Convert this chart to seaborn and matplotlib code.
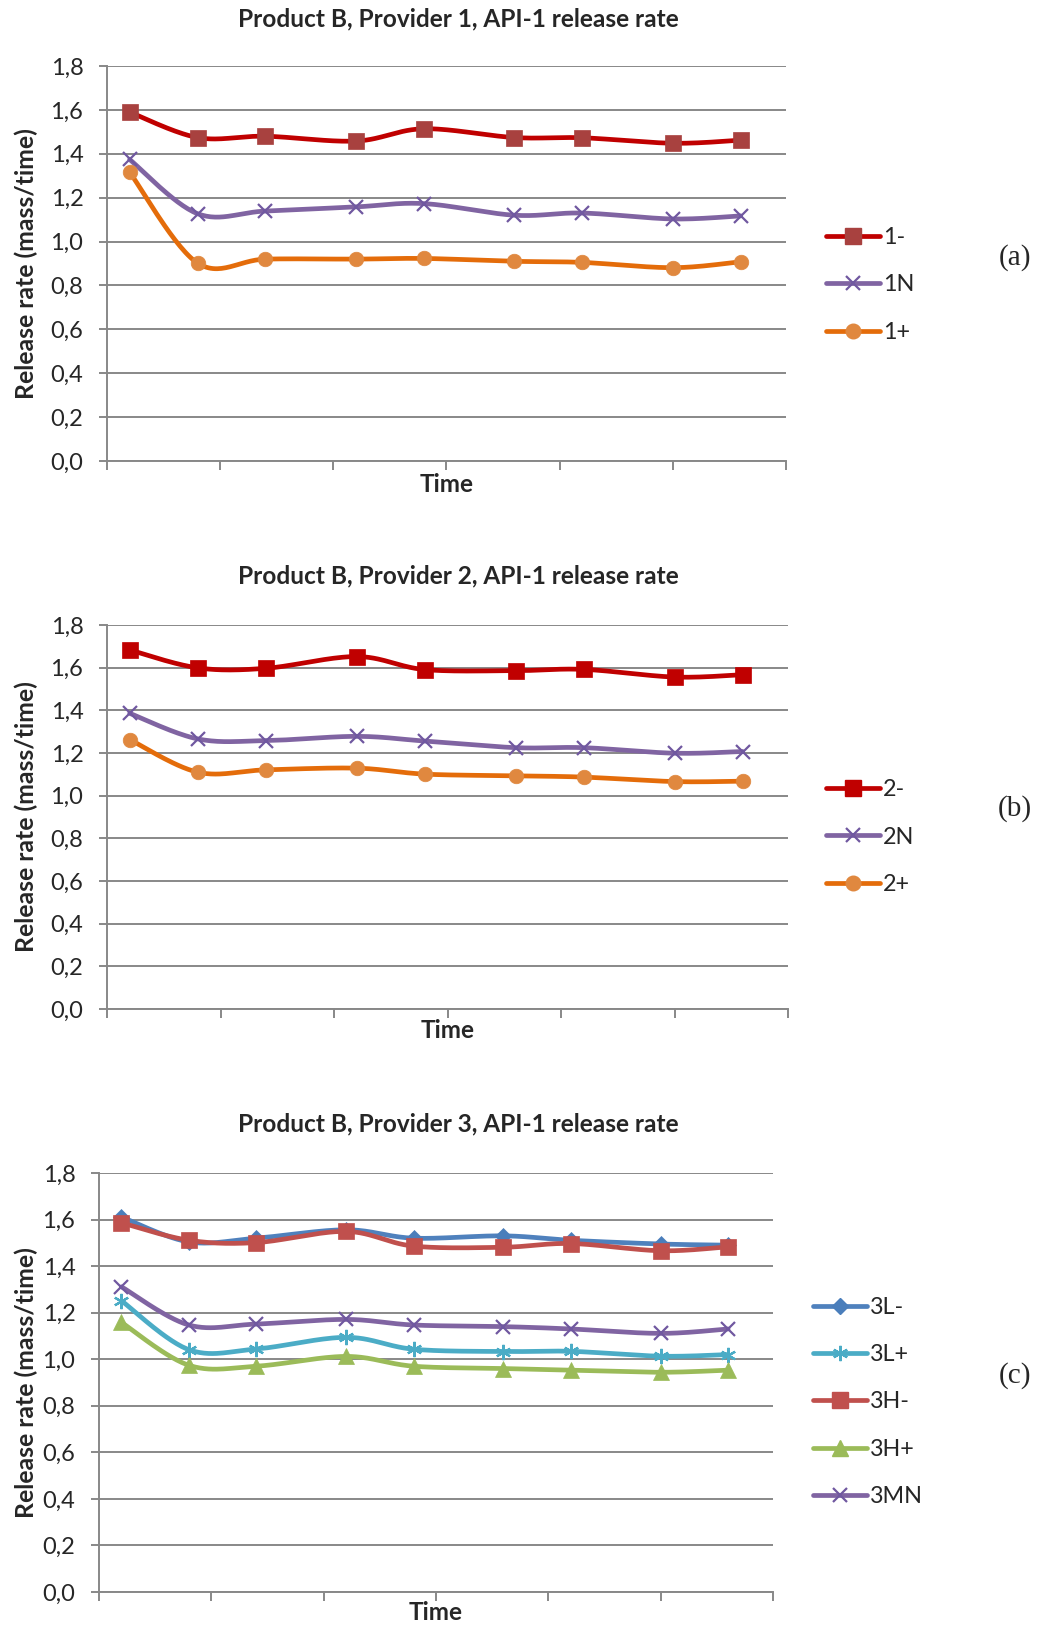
import numpy as np
import pandas as pd
import matplotlib
matplotlib.use("Agg")
import matplotlib.pyplot as plt
import seaborn as sns
from matplotlib.lines import Line2D
from matplotlib.ticker import FuncFormatter, MultipleLocator

sns.set_theme(style="white")
plt.rcParams["font.family"] = ["Lato", "DejaVu Sans"]

# Sampling times (days)
time_days = [1, 4, 7, 11, 14, 18, 21, 25, 28]

# Provider 1
p1_minus = [1.59, 1.474, 1.48, 1.458, 1.514, 1.474, 1.473, 1.448, 1.462]
p1_n = [1.374, 1.127, 1.139, 1.158, 1.173, 1.12, 1.13, 1.103, 1.117]
p1_plus = [1.316, 0.902, 0.92, 0.92, 0.923, 0.91, 0.905, 0.881, 0.908]

# Provider 2
p2_minus = [1.683, 1.599, 1.597, 1.652, 1.591, 1.586, 1.592, 1.556, 1.567]
p2_n = [1.386, 1.266, 1.258, 1.278, 1.256, 1.225, 1.225, 1.199, 1.207]
p2_plus = [1.263, 1.11, 1.121, 1.129, 1.101, 1.093, 1.087, 1.066, 1.068]

# Provider 3
p3_l_minus = [1.611, 1.504, 1.52, 1.556, 1.52, 1.53, 1.511, 1.495, 1.49]
p3_l_plus = [1.251, 1.041, 1.044, 1.094, 1.043, 1.033, 1.034, 1.013, 1.02]
p3_h_minus = [1.586, 1.511, 1.501, 1.549, 1.486, 1.481, 1.497, 1.466, 1.483]
p3_h_plus = [1.158, 0.974, 0.97, 1.012, 0.97, 0.96, 0.953, 0.944, 0.953]
p3_mn = [1.311, 1.147, 1.151, 1.171, 1.147, 1.14, 1.13, 1.111, 1.13]

titles = [
    "Product B, Provider 1, API-1 release rate",
    "Product B, Provider 2, API-1 release rate",
    "Product B, Provider 3, API-1 release rate",
]
panel_tags = ["(a)", "(b)", "(c)"]

# (label, values, line colour, marker, marker colour, marker size)
panels = [
    [
        ("1-", p1_minus, "#C00000", "s", "#A8413F", 11),
        ("1N", p1_n, "#8064A2", "x", "#7058A0", 10),
        ("1+", p1_plus, "#E46C0A", "o", "#E0883F", 10.5),
    ],
    [
        ("2-", p2_minus, "#C00000", "s", "#C00000", 11),
        ("2N", p2_n, "#8064A2", "x", "#7058A0", 10),
        ("2+", p2_plus, "#E46C0A", "o", "#E0883F", 10.5),
    ],
    [
        ("3L-", p3_l_minus, "#4F81BD", "D", "#4A7EBB", 8.5),
        ("3L+", p3_l_plus, "#4BACC6", (6, 2, 0), "#4BACC6", 11),
        ("3H-", p3_h_minus, "#C0504D", "s", "#C0504D", 11),
        ("3H+", p3_h_plus, "#9BBB59", "^", "#9BBB59", 11),
        ("3MN", p3_mn, "#8064A2", "x", "#7058A0", 10),
    ],
]

W, H = 1043, 1627
# axes boxes in pixels: left, right, top, bottom
boxes = [
    (107, 786, 66, 461),
    (107, 788, 625, 1009),
    (99, 773, 1173, 1592),
]
title_y = [19, 576, 1124]
time_y = [484, 1030, 1612]
legend_x = [826, 826, 813]
legend_cy = [285, 837, 1402]
tag_y = [258, 809, 1376]

XMAX, YMAX = 30.0, 1.8


def smooth_curve(x, y, sx, sy, n=30):
    """Bezier smoothing through the points, computed in screen-like units."""
    P = np.column_stack([np.asarray(x, float) * sx, np.asarray(y, float) * sy])
    out = []
    for i in range(len(P) - 1):
        p0 = P[i - 1] if i > 0 else P[i]
        p1, p2 = P[i], P[i + 1]
        p3 = P[i + 2] if i + 2 < len(P) else P[i + 1]
        c1 = p1 + (p2 - p0) / 6.0
        c2 = p2 - (p3 - p1) / 6.0
        t = np.linspace(0, 1, n, endpoint=(i == len(P) - 2))[:, None]
        seg = ((1 - t) ** 3) * p1 + 3 * ((1 - t) ** 2) * t * c1 + 3 * (1 - t) * t ** 2 * c2 + t ** 3 * p2
        out.append(seg)
    pts = np.vstack(out)
    return pts[:, 0] / sx, pts[:, 1] / sy


fig = plt.figure(figsize=(W / 100, H / 100), dpi=100)
grid_col = "#888888"
comma = FuncFormatter(lambda v, p: f"{v:.1f}".replace(".", ","))

for k, series in enumerate(panels):
    l, r, t, b = boxes[k]
    ax = fig.add_axes([l / W, 1 - b / H, (r - l) / W, (b - t) / H])
    sx = (r - l) / XMAX
    sy = (b - t) / YMAX
    for lab, vals, lc, mk, mc, ms in series:
        cx, cy = smooth_curve(time_days, vals, sx, sy)
        df = pd.DataFrame({"t": cx, "v": cy})
        sns.lineplot(data=df, x="t", y="v", sort=False, estimator=None,
                     color=lc, lw=3.4, ax=ax, zorder=3)
        if mk == "x" or isinstance(mk, tuple):
            ax.plot(time_days, vals, ls="none", marker=mk, ms=ms, mec=mc,
                    mew=1.6, zorder=4)
        else:
            ax.plot(time_days, vals, ls="none", marker=mk, ms=ms, mfc=mc,
                    mec=mc, mew=0.5, zorder=4)
    ax.set_xlim(0, XMAX)
    ax.set_ylim(0, YMAX)
    ax.yaxis.set_major_locator(MultipleLocator(0.2))
    ax.xaxis.set_major_locator(MultipleLocator(5))
    ax.yaxis.set_major_formatter(comma)
    ax.set_xticklabels([])
    ax.grid(axis="y", color=grid_col, lw=1.4)
    ax.set_axisbelow(True)
    for s in ("top", "right"):
        ax.spines[s].set_visible(False)
    for s in ("left", "bottom"):
        ax.spines[s].set_color(grid_col)
        ax.spines[s].set_linewidth(1.4)
    ax.tick_params(axis="both", which="major", direction="out", length=6,
                   width=1.4, color=grid_col, labelsize=17, pad=11,
                   left=True, bottom=True)
    ax.tick_params(axis="x", length=6.5)
    ax.set_xlabel("")
    ax.set_ylabel("")
    cx_fig = (l + r) / 2 / W
    fig.text(cx_fig, 1 - time_y[k] / H, "Time", ha="center", va="center",
             fontsize=17.5, fontweight="bold")
    fig.text(26 / W, 1 - (t + b) / 2 / H, "Release rate (mass/time)",
             rotation=90, ha="center", va="center", fontsize=17.8,
             fontweight="bold")
    fig.text(458 / W, 1 - title_y[k] / H, titles[k], ha="center", va="center",
             fontsize=17.6, fontweight="bold")

    handles = []
    for lab, vals, lc, mk, mc, ms in series:
        if mk == "x" or isinstance(mk, tuple):
            h = Line2D([], [], color=lc, lw=3.4, marker=mk, ms=ms, mec=mc, mew=1.6)
        else:
            h = Line2D([], [], color=lc, lw=3.4, marker=mk, ms=ms, mfc=mc, mec=mc)
        handles.append(h)
    fig.legend(handles, [s[0] for s in series], loc="center left",
               bbox_to_anchor=(legend_x[k] / W, 1 - legend_cy[k] / H),
               frameon=False, fontsize=16.8, handlelength=2.3,
               handletextpad=0.15, labelspacing=1.13, borderpad=0,
               borderaxespad=0)
    fig.text(1015 / W, 1 - tag_y[k] / H, panel_tags[k], ha="center",
             va="center", fontsize=21, family=["Liberation Serif", "DejaVu Serif"])

fig.savefig("out.png", dpi=100)
